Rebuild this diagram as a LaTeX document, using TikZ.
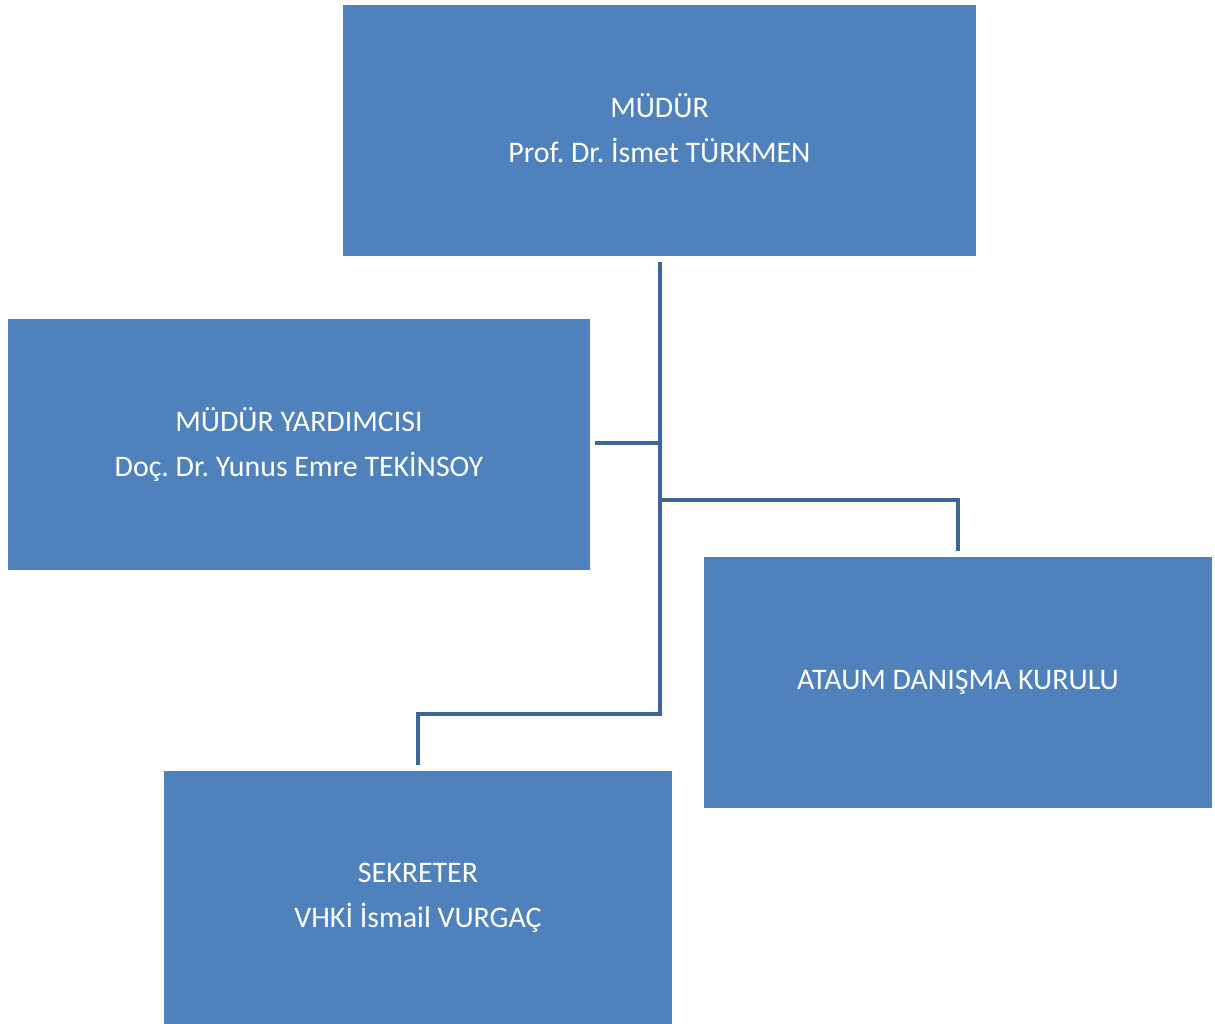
\documentclass[tikz,border=0pt]{standalone}
\usepackage{fontspec}
\setmainfont{Carlito}
\frenchspacing
\usetikzlibrary{positioning}
\definecolor{boxblue}{HTML}{4F81BD}
\definecolor{lineblue}{HTML}{3D6698}

\begin{document}
\begin{tikzpicture}\tikzset{unit/.style={fill=boxblue, draw=none, text=white, align=center, inner sep=0pt, minimum height=5.02cm, font=\fontsize{17}{25.6}\selectfont}, conn/.style={draw=lineblue, line width=2.5pt}}
	\useasboundingbox (0,0) rectangle (24.3,-20.46);
	\node[unit, minimum width=12.66cm] (mudur) at (13.19,-2.61) {MÜDÜR\\Prof. Dr. İsmet TÜRKMEN\rule[-0.1cm]{0pt}{0pt}};
	\node[unit, minimum width=11.64cm] (yard) at (5.98,-8.89) {MÜDÜR YARDIMCISI\\Doç. Dr. Yunus Emre TEKİNSOY};
	\node[unit, minimum width=10.16cm] (kurul) at (19.16,-13.65) {ATAUM DANIŞMA KURULU};
	\node[unit, minimum width=10.16cm, minimum height=5.06cm] (sek) at (8.36,-17.95) {SEKRETER\\VHKİ İsmail VURGAÇ};
	\coordinate (top) at (13.2,-5.24);
	\coordinate (jy) at (13.2,-8.86);
	\coordinate (jk) at (13.2,-10.0);
	\coordinate (js) at (13.2,-14.28);
	\draw[conn] (top) -- (js) -| ([yshift=0.12cm]sek.north);
	\draw[conn] (jy) -- ([xshift=0.1cm]yard.east |- jy);
	\draw[conn] (jk) -| ([yshift=0.12cm]kurul.north);
\end{tikzpicture}
\end{document}
